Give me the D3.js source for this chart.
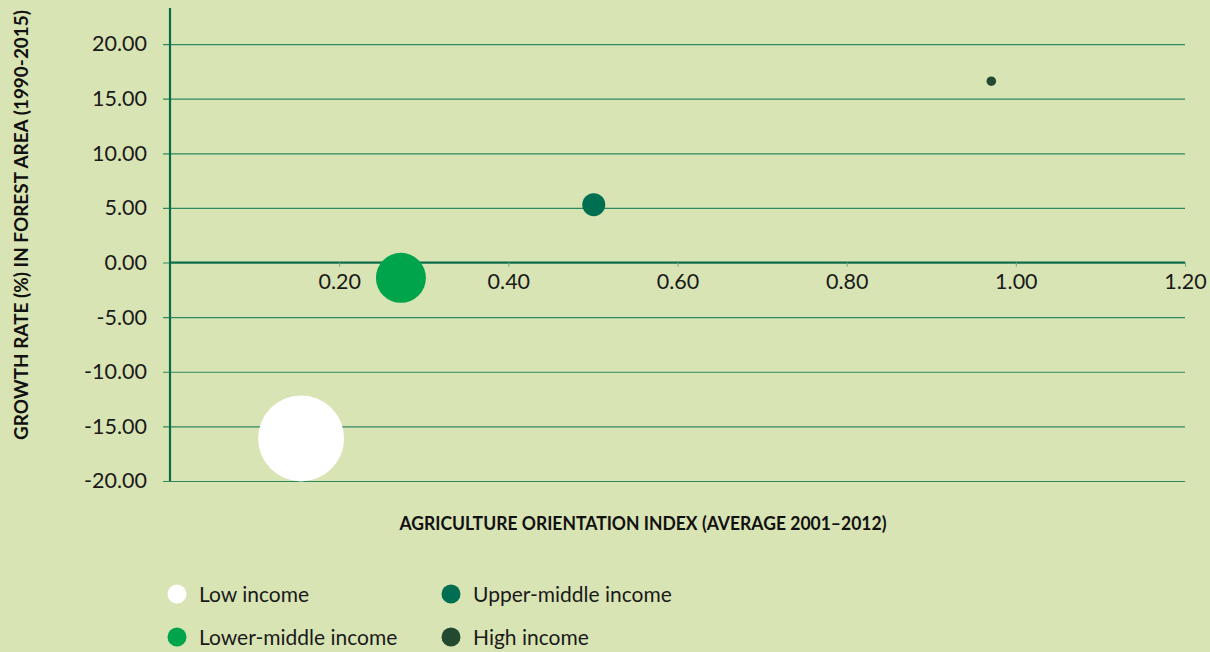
<!DOCTYPE html>
<html>
<head>
<meta charset="utf-8">
<script src="https://cdn.jsdelivr.net/npm/d3@7"></script>
<style>
body { margin: 0; background: #d9e4b4; }
svg { display: block; font-family: "Lato", "Noto Sans", sans-serif; }
</style>
</head>
<body>
<div id="draw"></div>
<script>
var groups = ["Low income", "Lower-middle income", "Upper-middle income", "High income"];
var aoi = [0.155, 0.273, 0.501, 0.971];
var growth = [-16.1, -1.4, 5.3, 16.6];
var sizes = [43, 25, 11.5, 4.8];
var colors = ["#ffffff", "#00a54b", "#006f51", "#234a31"];
var xTicks = [0.2, 0.4, 0.6, 0.8, 1.0, 1.2];
var yTicks = [-20, -15, -10, -5, 0, 5, 10, 15, 20];

var width = 1210, height = 652;

var x = d3.scaleLinear().domain([0, 1.2]).range([170, 1185]);
var y = d3.scaleLinear().domain([-20, 23.3]).range([481, 8]);

// plain hyphen for negatives, like the original
var fmt = function(d){ return d3.format(".2f")(d).replace("−", "-"); };

var svg = d3.select("#draw").append("svg")
	.attr("width", width)
	.attr("height", height);

svg.append("rect")
	.attr("width", width)
	.attr("height", height)
	.attr("fill", "#d9e4b4");

// horizontal grid + y labels
var yAxis = d3.axisLeft(y)
	.tickValues(yTicks)
	.tickSize(-(1185 - 163))
	.tickPadding(16)
	.tickFormat(fmt);

var gy = svg.append("g")
	.attr("transform", "translate(163,0)")
	.call(yAxis);
gy.select(".domain").remove();
gy.selectAll("line")
	.attr("stroke", "#2d8a5f")
	.attr("stroke-width", 1.2);
gy.selectAll("text")
	.attr("fill", "#1a1a1a")
	.style("font-size", "21.5px")
	.style("font-family", "Lato, sans-serif");

// vertical axis line
svg.append("line")
	.attr("x1", x(0)).attr("x2", x(0))
	.attr("y1", 8).attr("y2", y(-20))
	.attr("stroke", "#0b6b48")
	.attr("stroke-width", 2.2);

// x axis on zero
var xAxis = d3.axisBottom(x)
	.tickValues(xTicks)
	.tickSize(4)
	.tickPadding(7)
	.tickFormat(fmt);

var gx = svg.append("g")
	.attr("transform", "translate(0," + y(0) + ")")
	.call(xAxis);
gx.select(".domain")
	.attr("d", "M" + x(0) + ",0H" + x(1.2))
	.attr("stroke", "#0b6b48")
	.attr("stroke-width", 2.2);
gx.selectAll(".tick line")
	.attr("stroke", "#6aa88a")
	.attr("stroke-width", 1);
gx.selectAll("text")
	.attr("fill", "#1a1a1a")
	.style("font-size", "21.5px")
	.style("font-family", "Lato, sans-serif");

// bubbles
svg.selectAll("circle.bubble")
	.data(groups)
	.enter()
	.append("circle")
	.attr("class", "bubble")
	.attr("cx", function(d, i){ return x(aoi[i]); })
	.attr("cy", function(d, i){ return y(growth[i]); })
	.attr("r", function(d, i){ return sizes[i]; })
	.attr("fill", function(d, i){ return colors[i]; });

// axis titles
svg.append("text")
	.attr("x", 643)
	.attr("y", 530)
	.attr("text-anchor", "middle")
	.attr("fill", "#111")
	.attr("textLength", 487)
	.attr("lengthAdjust", "spacingAndGlyphs")
	.style("font-size", "18.5px")
	.style("font-weight", "bold")
	.text("AGRICULTURE ORIENTATION INDEX (AVERAGE 2001–2012)");

svg.append("text")
	.attr("transform", "translate(28,225) rotate(-90)")
	.attr("text-anchor", "middle")
	.attr("fill", "#111")
	.attr("textLength", 430)
	.attr("lengthAdjust", "spacingAndGlyphs")
	.style("font-size", "18.5px")
	.style("font-weight", "bold")
	.text("GROWTH RATE (%) IN FOREST AREA (1990-2015)");

// legend, two columns
var order = [0, 2, 1, 3];
var leg = svg.selectAll("g.legend")
	.data(order)
	.enter()
	.append("g")
	.attr("class", "legend")
	.attr("transform", function(d, k){
		var col = k % 2, row = Math.floor(k / 2);
		return "translate(" + (col ? 451 : 177) + "," + (row ? 637 : 594) + ")";
	});
leg.append("circle")
	.attr("r", 9.5)
	.attr("fill", function(d){ return colors[d]; });
leg.append("text")
	.attr("x", 22)
	.attr("y", 7.5)
	.attr("fill", "#1a1a1a")
	.style("font-size", "21px")
	.text(function(d){ return groups[d]; });
</script>
</body>
</html>
